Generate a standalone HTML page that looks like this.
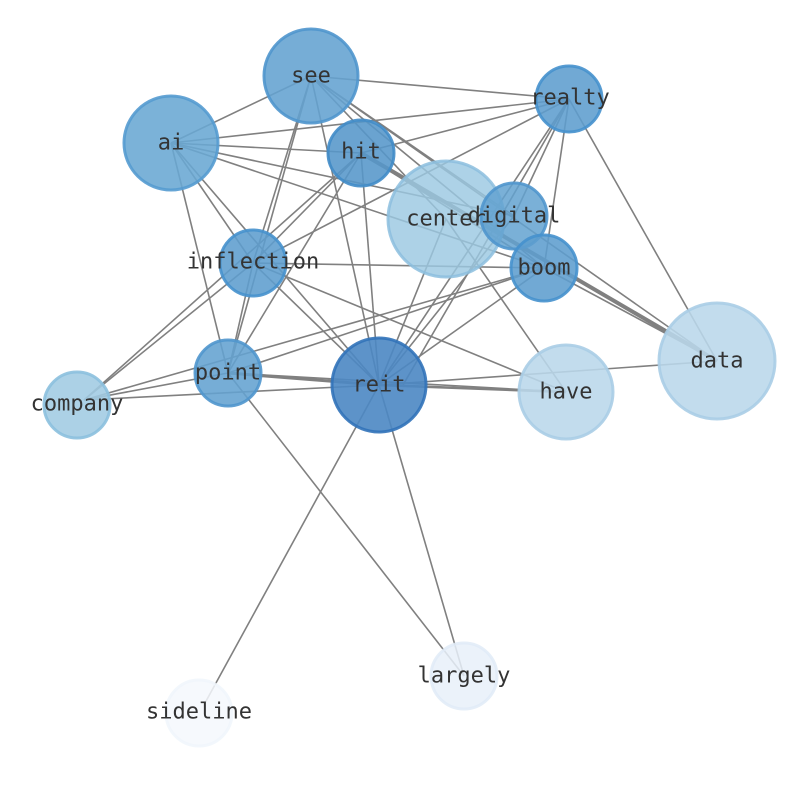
<!DOCTYPE html>
<html><head><meta charset="utf-8"><style>html,body{margin:0;padding:0;background:#fff}svg{display:block}</style></head>
<body>
<svg width="794" height="790" viewBox="0 0 794 790" xmlns="http://www.w3.org/2000/svg">
<g stroke="#808080" stroke-width="1.6" fill="none">
<line x1="311" y1="76" x2="569" y2="99"/>
<line x1="311" y1="76" x2="171" y2="143"/>
<line x1="311" y1="76" x2="253" y2="263"/>
<line x1="311" y1="76" x2="228" y2="373"/>
<line x1="311" y1="76" x2="379" y2="385"/>
<line x1="311" y1="76" x2="446" y2="219"/>
<line x1="311" y1="76" x2="514" y2="216"/>
<line x1="311" y1="76" x2="544" y2="268"/>
<line x1="311" y1="76" x2="717" y2="361"/>
<line x1="569" y1="99" x2="171" y2="143"/>
<line x1="569" y1="99" x2="361" y2="153"/>
<line x1="569" y1="99" x2="253" y2="263"/>
<line x1="569" y1="99" x2="379" y2="385"/>
<line x1="569" y1="99" x2="544" y2="268"/>
<line x1="569" y1="99" x2="514" y2="216"/>
<line x1="569" y1="99" x2="717" y2="361"/>
<line x1="569" y1="99" x2="403" y2="385"/>
<line x1="171" y1="143" x2="361" y2="153"/>
<line x1="171" y1="143" x2="514" y2="216"/>
<line x1="171" y1="143" x2="544" y2="268"/>
<line x1="171" y1="143" x2="253" y2="263"/>
<line x1="171" y1="143" x2="228" y2="373"/>
<line x1="171" y1="143" x2="379" y2="385"/>
<line x1="361" y1="153" x2="253" y2="263"/>
<line x1="361" y1="153" x2="228" y2="373"/>
<line x1="361" y1="153" x2="84" y2="400"/>
<line x1="361" y1="153" x2="379" y2="385"/>
<line x1="361" y1="153" x2="544" y2="268"/>
<line x1="361" y1="153" x2="717" y2="361" stroke-width="4"/>
<line x1="253" y1="263" x2="544" y2="268"/>
<line x1="253" y1="263" x2="379" y2="385"/>
<line x1="253" y1="263" x2="566" y2="392"/>
<line x1="253" y1="263" x2="84" y2="400"/>
<line x1="253" y1="263" x2="228" y2="373"/>
<line x1="446" y1="219" x2="566" y2="392"/>
<line x1="544" y1="268" x2="228" y2="373"/>
<line x1="544" y1="268" x2="84" y2="400"/>
<line x1="544" y1="268" x2="379" y2="385"/>
<line x1="544" y1="268" x2="717" y2="361"/>
<line x1="228" y1="373" x2="379" y2="385" stroke-width="3"/>
<line x1="228" y1="373" x2="566" y2="392"/>
<line x1="228" y1="373" x2="464" y2="676"/>
<line x1="228" y1="373" x2="84" y2="400"/>
<line x1="379" y1="385" x2="566" y2="392" stroke-width="2.6"/>
<line x1="379" y1="385" x2="717" y2="361"/>
<line x1="379" y1="385" x2="84" y2="400"/>
<line x1="379" y1="385" x2="464" y2="676"/>
<line x1="379" y1="385" x2="205" y2="703"/>
<line x1="379" y1="385" x2="514" y2="216"/>
<line x1="379" y1="385" x2="446" y2="219"/>
</g>
<g stroke-width="3">
<circle cx="311" cy="76" r="47" fill="rgba(99,162,208,0.88)" stroke="rgba(80,150,205,0.9)"/>
<circle cx="569" cy="99" r="33" fill="rgba(93,157,206,0.88)" stroke="rgba(70,145,205,0.9)"/>
<circle cx="171" cy="143" r="47" fill="rgba(105,167,211,0.88)" stroke="rgba(85,155,208,0.9)"/>
<circle cx="361" cy="153" r="33" fill="rgba(85,150,202,0.88)" stroke="rgba(65,140,200,0.9)"/>
<circle cx="446" cy="219" r="58" fill="rgba(155,200,226,0.82)" stroke="rgba(140,190,222,0.85)"/>
<circle cx="514" cy="216" r="33" fill="rgba(99,162,208,0.85)" stroke="rgba(80,150,205,0.9)"/>
<circle cx="253" cy="263" r="33" fill="rgba(93,157,206,0.88)" stroke="rgba(70,145,205,0.9)"/>
<circle cx="544" cy="268" r="33" fill="rgba(93,157,206,0.88)" stroke="rgba(70,145,205,0.9)"/>
<circle cx="717" cy="361" r="58" fill="rgba(185,215,234,0.88)" stroke="rgba(170,205,230,0.9)"/>
<circle cx="228" cy="373" r="33" fill="rgba(99,162,208,0.88)" stroke="rgba(80,150,205,0.9)"/>
<circle cx="379" cy="385" r="47" fill="rgba(75,135,195,0.9)" stroke="rgba(50,115,185,0.9)"/>
<circle cx="566" cy="392" r="47" fill="rgba(185,215,234,0.88)" stroke="rgba(170,205,230,0.9)"/>
<circle cx="77" cy="405" r="33" fill="rgba(160,203,226,0.88)" stroke="rgba(140,192,222,0.9)"/>
<circle cx="464" cy="676" r="33" fill="rgba(232,240,249,0.85)" stroke="rgba(225,235,247,0.85)"/>
<circle cx="199" cy="713" r="33" fill="rgba(244,248,253,0.85)" stroke="rgba(240,246,252,0.85)"/>
</g>
<g font-family="'DejaVu Sans Mono','Liberation Mono',monospace" font-size="22" fill="#333" text-anchor="middle" dominant-baseline="central">
<text x="311" y="76">see</text>
<text x="570" y="98">realty</text>
<text x="171" y="143">ai</text>
<text x="361" y="152">hit</text>
<text x="446" y="219">center</text>
<text x="514" y="216">digital</text>
<text x="253" y="262">inflection</text>
<text x="544" y="268">boom</text>
<text x="717" y="361">data</text>
<text x="228" y="373">point</text>
<text x="379" y="385">reit</text>
<text x="566" y="392">have</text>
<text x="77" y="404">company</text>
<text x="464" y="676">largely</text>
<text x="199" y="712">sideline</text>
</g>
</svg>
</body></html>
